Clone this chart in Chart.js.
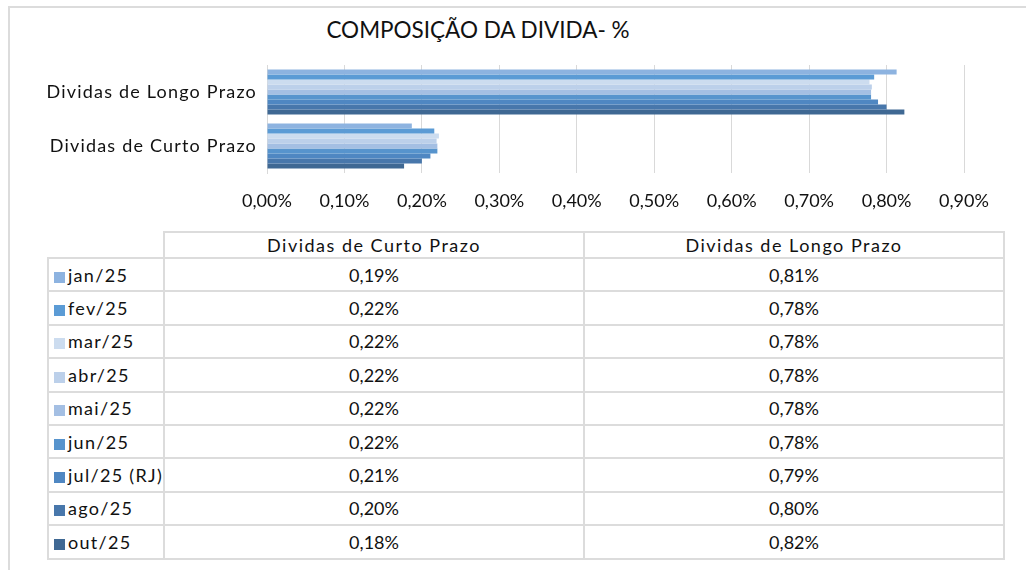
<!DOCTYPE html>
<html>
<head>
<meta charset="utf-8">
<script src="https://cdn.jsdelivr.net/npm/chart.js@4"></script>
<style>
  body { margin: 0; background: #fff; font-family: 'Lato', sans-serif; color: #111; }
  #frame { position: absolute; left: 8px; top: 6px; width: 1030px; height: 580px;
           border-left: 2px solid #dcdcdc; border-top: 2px solid #dcdcdc; }
  #wrap { position: absolute; left: 0; top: 0; width: 1026px; height: 230px; }
  #title { position: absolute; left: 278px; width: 400px; top: 16px; text-align: center;
           font-size: 22.5px; color: #111; }
  table { position: absolute; left: 47px; top: 231px; border-collapse: collapse; }
  td { border: 2px solid #dcdcdc; height: 31.4px; line-height: 20px; padding: 0; font-size: 18px; text-align: center; }
  tr.headrow td { height: 24px; }
  td.name { text-align: left; padding-left: 5px; letter-spacing: 1.3px; white-space: nowrap; }
  td.head { letter-spacing: 1.5px; }
  td.blank { border-left: none; border-top: none; }
  .sw { display: inline-block; width: 11px; height: 11px; margin-right: 3px; vertical-align: -1px; }
</style>
</head>
<body>
<div id="frame"></div>
<div id="title">COMPOSIÇÃO DA DIVIDA- %</div>
<div id="wrap"><canvas id="divChart"></canvas></div>
<table id="dataTable"></table>
<script>
const categories = ["Dividas de Curto Prazo", "Dividas de Longo Prazo"];
const months = ["jan/25", "fev/25", "mar/25", "abr/25", "mai/25", "jun/25", "jul/25 (RJ)", "ago/25", "out/25"];
const curto = [0.187, 0.216, 0.222, 0.219, 0.220, 0.220, 0.211, 0.200, 0.177];
const longo = [0.813, 0.784, 0.778, 0.781, 0.780, 0.780, 0.789, 0.800, 0.823];
const colors = ["#8db3e0", "#5b9bd5", "#ccdcef", "#bcd0ea", "#a4bfe3", "#5794cd", "#4f87c2", "#4877ab", "#3f6893"];

const fmt = v => v.toFixed(2).replace(".", ",") + "%";

// y-axis labels in Excel are spaced out; the y tick labels are drawn after the bars (ticks.z:1)
const spacingPlugin = {
  id: "spacing",
  afterDatasetsDraw(chart) { chart.ctx.letterSpacing = "1.2px"; },
  afterDraw(chart) { chart.ctx.letterSpacing = "0px"; }
};

const ctx = document.getElementById("divChart").getContext("2d");
new Chart(ctx, {
  type: "bar",
  data: {
    labels: categories,
    datasets: months.map((m, i) => ({
      label: m,
      data: [curto[i], longo[i]],
      backgroundColor: colors[i],
      borderWidth: 0
    }))
  },
  options: {
    indexAxis: "y",
    responsive: true,
    maintainAspectRatio: false,
    animation: false,
    layout: { padding: { top: 65, right: 62, left: 0, bottom: 0 } },
    datasets: { bar: { categoryPercentage: 0.83, barPercentage: 1 } },
    scales: {
      x: {
        min: 0, max: 0.9,
        ticks: { stepSize: 0.1, padding: 17, color: "#111",
                 font: { family: "Lato", size: 18 }, callback: v => fmt(v) },
        grid: { color: "#d9d9d9", drawTicks: false },
        border: { display: false },
        afterFit: s => { s.height = 57; }
      },
      y: {
        reverse: true,
        ticks: { z: 1, padding: 2, color: "#111", font: { family: "Lato", size: 18 } },
        grid: { display: false },
        border: { color: "#d9d9d9", width: 1 },
        afterFit: s => { s.width = 267; }
      }
    },
    plugins: {
      legend: { display: false },
      title: { display: false },
      tooltip: { enabled: false }
    }
  },
  plugins: [spacingPlugin]
});

// data table under the chart
const table = document.getElementById("dataTable");
let html = '<tr class="headrow"><td class="blank" style="width:112px"></td>' +
  categories.map(c => `<td class="head" style="width:418px">${c}</td>`).join("") + "</tr>";
months.forEach((m, i) => {
  html += `<tr><td class="name"><span class="sw" style="background:${colors[i]}"></span>${m}</td>` +
    `<td>${fmt(curto[i])}</td><td>${fmt(longo[i])}</td></tr>`;
});
table.innerHTML = html;
</script>
</body>
</html>
